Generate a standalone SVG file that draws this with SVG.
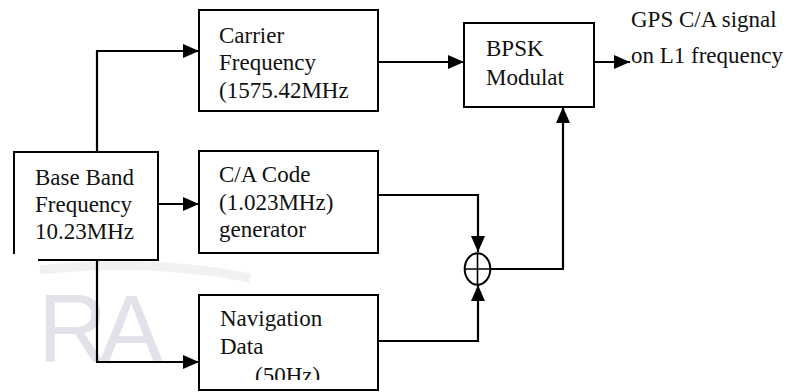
<svg xmlns="http://www.w3.org/2000/svg" width="802" height="392" viewBox="0 0 802 392">
<style>
.box{fill:none;stroke:#000;stroke-width:2}
.c{fill:none;stroke:#000;stroke-width:2.2}
text.t{font-family:"Liberation Serif","Times New Roman",serif;font-size:23px;fill:#111}
</style>
<defs>
<marker id="ah" markerUnits="userSpaceOnUse" markerWidth="16" markerHeight="14" refX="16" refY="7" orient="auto">
<path d="M0,0 L16,7 L0,14 Z" fill="#000"/>
</marker>
<clipPath id="navclip"><rect x="199" y="295" width="180" height="85"/></clipPath>
</defs>
<rect width="802" height="392" fill="#fff"/>
<g id="watermark">
<path d="M40,270 Q150,258 250,278" fill="none" stroke="#f1f1f4" stroke-width="9"/>
<text x="38" y="362" font-family="Liberation Sans, Arial, sans-serif" font-size="96" fill="#e2e2eb" letter-spacing="-8">RA</text>
</g>
<g id="connectors">
<path class="c" d="M97,152 V51 H199" marker-end="url(#ah)"/>
<path class="c" d="M158,204 H199" marker-end="url(#ah)"/>
<path class="c" d="M97,260 V362 H199" marker-end="url(#ah)"/>
<path class="c" d="M378,62 H464" marker-end="url(#ah)"/>
<path class="c" d="M378,195 H478 V252" marker-end="url(#ah)"/>
<path class="c" d="M378,341 H478 V285" marker-end="url(#ah)"/>
<path class="c" d="M490,269 H563 V107" marker-end="url(#ah)"/>
<path class="c" d="M594,62 H630" marker-end="url(#ah)"/>
</g>
<g id="baseband">
<path class="box" d="M14,254 V152 H158 V260 H38"/>
<text class="t" x="35" y="185">Base Band</text>
<text class="t" x="35" y="212">Frequency</text>
<text class="t" x="35" y="239">10.23MHz</text>
</g>
<g id="carrier">
<rect class="box" x="199" y="10" width="179" height="101"/>
<text class="t" x="219" y="43">Carrier</text>
<text class="t" x="219" y="70">Frequency</text>
<text class="t" x="219" y="98">(1575.42MHz</text>
</g>
<g id="cacode">
<rect class="box" x="199" y="151" width="179" height="102"/>
<text class="t" x="219" y="182">C/A Code</text>
<text class="t" x="219" y="210">(1.023MHz)</text>
<text class="t" x="219" y="237">generator</text>
</g>
<g id="navdata">
<rect class="box" x="199" y="295" width="179" height="95"/>
<text class="t" x="220" y="326">Navigation</text>
<text class="t" x="220" y="354">Data</text>
<text class="t" x="255" y="383" clip-path="url(#navclip)">(50Hz)</text>
</g>
<g id="bpsk">
<rect class="box" x="464" y="23" width="130" height="84"/>
<text class="t" x="486" y="56">BPSK</text>
<text class="t" x="486" y="85">Modulat</text>
</g>
<g id="xor">
<ellipse cx="477.5" cy="269" rx="12.8" ry="15.8" fill="#fff" stroke="#000" stroke-width="2"/>
<path d="M464.7,269 H490.3 M477.5,253.2 V284.8" stroke="#000" stroke-width="1.6"/>
</g>
<g id="output">
<text class="t" x="631" y="27">GPS C/A signal</text>
<text class="t" x="631" y="63">on L1 frequency</text>
</g>
</svg>
